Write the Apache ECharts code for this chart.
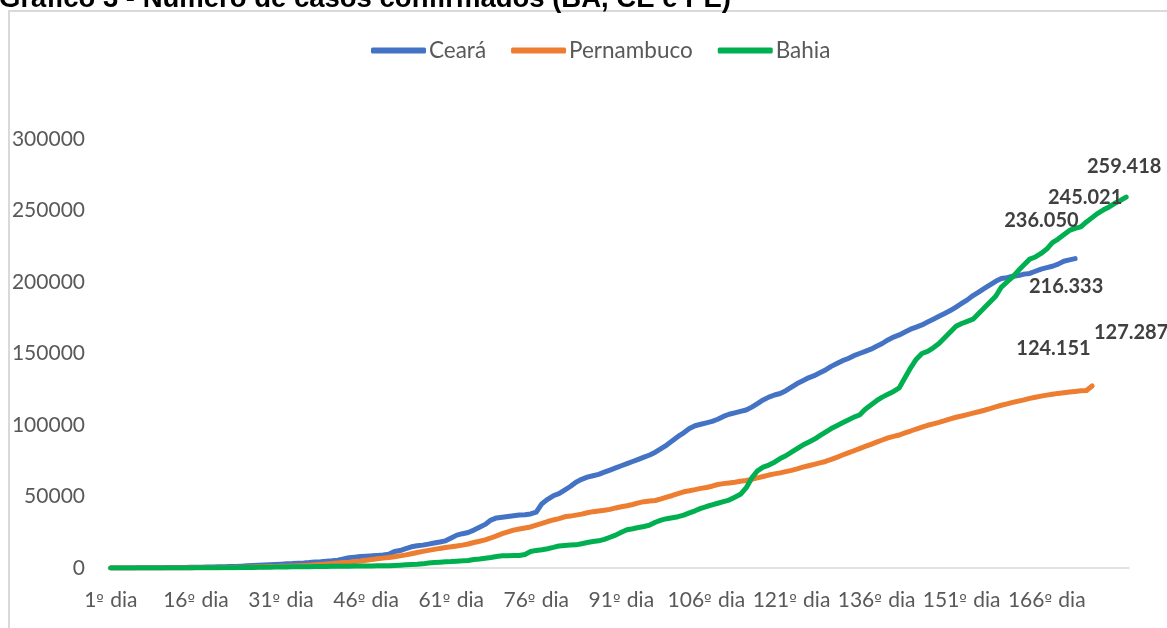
<!DOCTYPE html>
<html>
<head>
<meta charset="utf-8">
<script src="https://cdn.jsdelivr.net/npm/echarts@6/dist/echarts.min.js"></script>
<style>
  html, body { margin: 0; padding: 0; background: #fff; }
  #chart { width: 1167px; height: 628px; }
</style>
</head>
<body>
<div id="chart"></div>
<script>
// cumulative confirmed cases, by day since each state's first case
const ceara = [
  0, 10, 20, 30, 60, 100, 130, 160, 200, 250,
  290, 330, 370, 400, 450, 500, 560, 640, 700, 800,
  900, 1000, 1100, 1300, 1500, 1700, 1900, 2100, 2300, 2500,
  2700, 2950, 3100, 3400, 3550, 3800, 4150, 4400, 4750, 5000,
  5500, 6300, 7200, 7600, 8000, 8300, 8500, 8800, 9100, 9600,
  11500, 12200, 13500, 14800, 15500, 16000, 16700, 17500, 18200, 19000,
  21000, 23000, 24000, 24800, 26500, 28500, 30500, 33500, 35000, 35500,
  36000, 36500, 37000, 37300, 37800, 39000, 45000, 48000, 50500, 52000,
  54500, 57000, 60000, 62000, 63500, 64500, 65500, 67000, 68500, 70000,
  71500, 73000, 74500, 76000, 77500, 79000, 81000, 83500, 86000, 89000,
  92000, 94500, 97500, 99500, 100500, 101500, 102500, 104000, 106000, 107500,
  108500, 109500, 110500, 112500, 115000, 117500, 119500, 121000, 122000, 124000,
  126500, 129000, 131000, 133000, 134500, 136500, 138500, 141000, 143000, 145000,
  146500, 148500, 150000, 151500, 153000, 155000, 157000, 159500, 161500, 163000,
  165000, 167000, 168500, 170000, 172000, 174000, 176000, 178000, 180000, 182500,
  185000, 187500, 190500, 193000, 195500, 198000, 200500, 202500, 203000, 204000,
  204500, 205500, 206000, 207500, 209000, 210000, 211000, 212500, 214500, 215500,
  216333
]
const pernambuco = [
  2, 2, 2, 2, 4, 7, 16, 19, 30, 34,
  40, 50, 60, 70, 80, 100, 130, 160, 200, 250,
  300, 350, 400, 500, 600, 700, 800, 900, 1000, 1100,
  1200, 1300, 1450, 1600, 1800, 2000, 2200, 2500, 2800, 3100,
  3500, 3800, 4100, 4500, 4900, 5400, 5900, 6400, 6900, 7400,
  7900, 8500, 9200, 10000, 10800, 11600, 12300, 13000, 13700, 14300,
  14800, 15400, 16000, 16800, 17800, 18700, 19700, 21000, 22500, 24000,
  25200, 26500, 27300, 28000, 28700, 30000, 31200, 32500, 33600, 34500,
  35800, 36300, 37000, 37700, 38600, 39400, 39900, 40400, 41000, 42000,
  42800, 43500, 44400, 45500, 46400, 46800, 47200, 48300, 49600, 50700,
  52000, 53300, 54000, 54800, 55700, 56300, 57200, 58400, 59000, 59500,
  60000, 60600, 61200, 62000, 63000, 64000, 65000, 65800, 66500, 67400,
  68300, 69300, 70500, 71500, 72500, 73500, 74500, 75900, 77400, 79000,
  80500, 82000, 83500, 85000, 86500, 88000, 89500, 91000, 92000, 93000,
  94500, 95800, 97200, 98500, 99800, 100800, 101800, 103000, 104300, 105400,
  106300, 107300, 108300, 109300, 110300, 111400, 112600, 113800, 114800, 115800,
  116700, 117600, 118600, 119400, 120200, 120900, 121500, 122100, 122600, 123100,
  123500, 123900, 124151, 127287
]
const bahia = [
  2, 2, 2, 2, 3, 3, 6, 10, 16, 27,
  30, 34, 40, 55, 76, 98, 115, 131, 154, 176,
  201, 232, 257, 316, 364, 410, 456, 536, 581, 633,
  690, 740, 800, 860, 900, 950, 1010, 1070, 1120, 1160,
  1200, 1240, 1290, 1350, 1390, 1430, 1480, 1520, 1570, 1620,
  1800, 2000, 2200, 2400, 2600, 2900, 3500, 3900, 4100, 4300,
  4500, 4800, 5000, 5300, 6000, 6300, 6800, 7300, 8000, 8500,
  8600, 8700, 8800, 9500, 11500, 12300, 12800, 13500, 14400, 15400,
  15800, 16000, 16200, 17000, 17800, 18500, 19000, 20000, 21500, 23000,
  25000, 26800, 27500, 28300, 29000, 30000, 32000, 33500, 34500, 35200,
  35900, 37000, 38500, 40000, 41700, 43000, 44200, 45300, 46400, 47500,
  49500, 51500, 56000, 63000, 68000, 70500, 72000, 74000, 76500, 78500,
  81000, 83500, 86000, 88000, 90000, 92500, 95000, 97500, 99500, 101500,
  103500, 105500, 107000, 111000, 114000, 117000, 119500, 121500, 123500, 126000,
  133000, 140000, 146000, 150000, 151500, 154000, 157000, 161000, 165000, 169000,
  171000, 172500, 174000, 178000, 182000, 186000, 190000, 196500, 200000, 203500,
  208000, 212000, 216000, 217500, 220000, 223000, 227500, 230000, 233000, 236050,
  237500, 238500, 242000, 245021, 248000, 250500, 252500, 255000, 257000, 259418
]
const dayCount = 180
const days = Array.from({ length: dayCount }, (_, i) => (i + 1) + 'º dia')
const yTicks = { min: 0, max: 300000, step: 50000 }

// which points carry a value label, and where the label sits relative to the point
const pointLabels = {
  'Ceará': { 170: [-9, 28] },
  'Pernambuco': { 172: [-33, -42], 173: [39, -53] },
  'Bahia': { 169: [-28, -10], 173: [-7, -20], 179: [-2, -30] }
}

const font = 'Lato, "Open Sans", sans-serif'

function fmt (v) {
  return String(v).replace(/\B(?=(\d{3})+(?!\d))/g, '.')
}

function buildData (name, values) {
  const marks = pointLabels[name] || {}
  return values.map((v, i) => {
    if (!marks[i]) return v
    return {
      value: v,
      label: {
        show: true,
        position: 'inside',
        offset: marks[i],
        formatter: p => fmt(p.value),
        fontFamily: font,
        fontSize: 20,
        fontWeight: 'bold',
        color: '#404040'
      }
    }
  })
}

function lineSeries (name, values, color) {
  return {
    name: name,
    type: 'line',
    data: buildData(name, values),
    showSymbol: true,
    showAllSymbol: true,
    symbol: 'circle',
    symbolSize: 0,
    itemStyle: { color: color },
    lineStyle: { color: color, width: 5, cap: 'round', join: 'round' },
    emphasis: { disabled: true },
    z: 3
  }
}

const chart = echarts.init(document.getElementById('chart'))
chart.setOption({
  animation: false,
  backgroundColor: '#fff',
  title: {
    text: 'Gráfico 3 - Número de casos confirmados (BA, CE e PE)',
    left: -1,
    top: -15,
    padding: 0,
    textStyle: {
      fontFamily: '"Liberation Sans", Arial, sans-serif',
      fontSize: 27.5,
      fontWeight: 'bold',
      color: '#000'
    }
  },
  graphic: [{
    type: 'rect',
    shape: { x: 9, y: 11, width: 1300, height: 800 },
    style: { fill: 'none', stroke: '#d9d9d9', lineWidth: 2 },
    silent: true,
    z: -1
  }],
  legend: {
    top: 34,
    left: 366,
    itemWidth: 55,
    itemHeight: 6,
    itemGap: 25,
    icon: 'roundRect',
    textStyle: { fontFamily: font, fontSize: 22.5, color: '#595959', padding: [0, 0, 0, -2] },
    data: ['Ceará', 'Pernambuco', 'Bahia']
  },
  grid: {
    left: 108,
    right: 38,
    top: 139,
    bottom: 60,
    containLabel: false
  },
  xAxis: {
    type: 'category',
    boundaryGap: true,
    data: days,
    axisLine: { show: true, lineStyle: { color: '#d9d9d9', width: 1.5 } },
    axisTick: { show: false },
    axisLabel: {
      interval: 14,
      margin: 22,
      formatter: v => '{n|' + v.replace('º dia', '') + '}{o|º}{n| dia}',
      rich: {
        n: { fontFamily: font, fontSize: 21, color: '#595959' },
        o: { fontFamily: '"DejaVu Sans", sans-serif', fontSize: 16, color: '#595959', padding: [0, 1, 0, 0] }
      }
    },
    splitLine: { show: false }
  },
  yAxis: {
    type: 'value',
    min: yTicks.min,
    max: yTicks.max,
    interval: yTicks.step,
    axisLine: { show: false },
    axisTick: { show: false },
    splitLine: { show: false },
    axisLabel: {
      margin: 23,
      formatter: v => String(v),
      fontFamily: font,
      fontSize: 21,
      color: '#595959'
    }
  },
  series: [
    lineSeries('Ceará', ceara, '#4472C4'),
    lineSeries('Pernambuco', pernambuco, '#ED7D31'),
    lineSeries('Bahia', bahia, '#00B050')
  ]
})
</script>
</body>
</html>
